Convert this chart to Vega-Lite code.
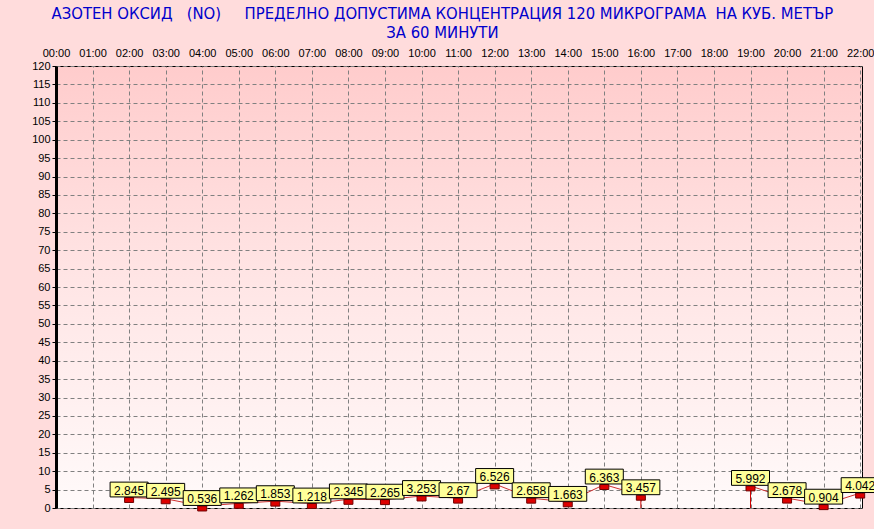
{
  "$schema": "https://vega.github.io/schema/vega-lite/v6.json",
  "width": 806,
  "height": 442,
  "autosize": {"type": "none"},
  "padding": {"left": 56, "top": 66, "right": 12, "bottom": 21},
  "background": "#ffdcdc",
  "title": {
    "text": ["АЗОТЕН ОКСИД \u00a0 (NO) \u00a0 \u00a0 ПРЕДЕЛНО ДОПУСТИМА КОНЦЕНТРАЦИЯ 120 МИКРОГРАМА \u00a0НА КУБ. МЕТЪР", "ЗА 60 МИНУТИ"],
    "font": "DejaVu Sans Condensed, Liberation Sans Narrow, sans-serif",
    "fontSize": 16.5,
    "fontWeight": "normal",
    "color": "#0000cc",
    "anchor": "middle",
    "frame": "bounds",
    "lineHeight": 19,
    "offset": 6,
    "dx": -14
  },
  "data": {
    "values": [
      {"h": 2, "v": 2.845},
      {"h": 3, "v": 2.495},
      {"h": 4, "v": 0.536},
      {"h": 5, "v": 1.262},
      {"h": 6, "v": 1.853},
      {"h": 7, "v": 1.218},
      {"h": 8, "v": 2.345},
      {"h": 9, "v": 2.265},
      {"h": 10, "v": 3.253},
      {"h": 11, "v": 2.67},
      {"h": 12, "v": 6.526},
      {"h": 13, "v": 2.658},
      {"h": 14, "v": 1.663},
      {"h": 15, "v": 6.363},
      {"h": 16, "v": 3.457},
      {"h": 17, "v": null},
      {"h": 18, "v": null},
      {"h": 19, "v": 5.992},
      {"h": 20, "v": 2.678},
      {"h": 21, "v": 0.904},
      {"h": 22, "v": 4.042}
    ]
  },
  "encoding": {
    "x": {
      "field": "h",
      "type": "quantitative",
      "scale": {"domain": [0, 22.05], "nice": false, "zero": false},
      "axis": {
        "orient": "top",
        "title": null,
        "values": [0,1,2,3,4,5,6,7,8,9,10,11,12,13,14,15,16,17,18,19,20,21,22],
        "labelExpr": "(datum.value < 10 ? '0' : '') + datum.value + ':00'",
        "labelFont": "Liberation Sans, Arial, sans-serif",
        "labelFontSize": 11,
        "labelColor": "#000000",
        "labelPadding": 8,
        "labelFlush": false,
        "labelOverlap": false,
        "domain": false,
        "ticks": false,
        "grid": true,
        "gridColor": "#808080",
        "gridDash": [4, 3],
        "gridWidth": 1,
        "gridOpacity": 1
      }
    },
    "y": {
      "field": "v",
      "type": "quantitative",
      "scale": {"domain": [0, 120], "nice": false},
      "axis": {
        "title": null,
        "values": [0,5,10,15,20,25,30,35,40,45,50,55,60,65,70,75,80,85,90,95,100,105,110,115,120],
        "labelFont": "Liberation Sans, Arial, sans-serif",
        "labelFontSize": 11,
        "labelColor": "#000000",
        "labelPadding": 2,
        "domain": true,
        "domainColor": "#000000",
        "domainWidth": 3,
        "ticks": true,
        "tickColor": "#000000",
        "tickSize": 4,
        "grid": true,
        "gridColor": "#808080",
        "gridDash": [4, 3],
        "gridWidth": 1,
        "gridOpacity": 1
      }
    }
  },
  "layer": [
    {
      "mark": {"type": "line", "color": "#d03030", "strokeWidth": 1}
    },
    {
      "transform": [{"filter": {"field": "h", "oneOf": [16, 19]}}],
      "mark": {"type": "rule", "color": "#cc0000", "strokeWidth": 1},
      "encoding": {"y2": {"datum": 0}}
    },
    {
      "mark": {
        "type": "point",
        "shape": "M-1,0H1V1.1H-1Z",
        "size": 81,
        "filled": true,
        "fill": "#dd0000",
        "stroke": "#700000",
        "strokeWidth": 1,
        "opacity": 1
      }
    },
    {
      "mark": {
        "type": "point",
        "shape": "M-1,-0.39H1V0.39H-1Z",
        "size": 1444,
        "filled": true,
        "fill": "#ffff99",
        "stroke": "#000000",
        "strokeWidth": 1,
        "opacity": 1,
        "yOffset": -8
      }
    },
    {
      "mark": {
        "type": "text",
        "font": "Liberation Sans, Arial, sans-serif",
        "fontSize": 12,
        "color": "#000000",
        "baseline": "middle",
        "align": "center",
        "yOffset": -7
      },
      "encoding": {"text": {"field": "v", "type": "quantitative", "format": "~g"}}
    }
  ],
  "config": {
    "view": {
      "stroke": "#000000",
      "strokeWidth": 1,
      "fill": {
        "gradient": "linear",
        "x1": 0, "y1": 0, "x2": 0, "y2": 1,
        "stops": [
          {"offset": 0, "color": "#ffcccc"},
          {"offset": 0.5, "color": "#ffe6e6"},
          {"offset": 1, "color": "#fffafa"}
        ]
      }
    }
  }
}
